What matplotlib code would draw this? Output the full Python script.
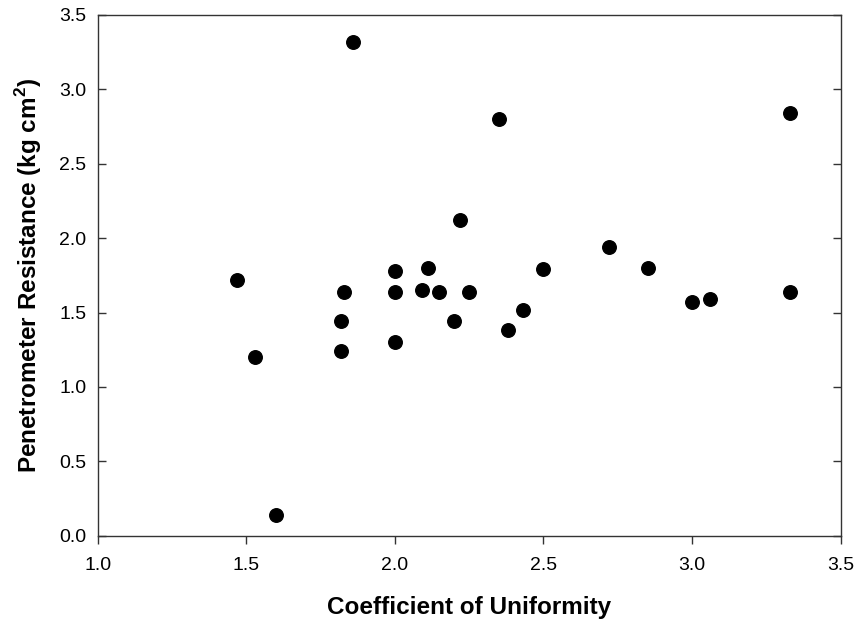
import matplotlib
matplotlib.use("Agg")
import matplotlib.pyplot as plt

plt.rcParams['font.family'] = ['Liberation Sans', 'DejaVu Sans']
plt.rcParams['mathtext.fontset'] = 'custom'
plt.rcParams['mathtext.rm'] = 'Liberation Sans'
plt.rcParams['mathtext.bf'] = 'Liberation Sans:bold'

# coefficient of uniformity vs penetrometer resistance
coef_uniformity = [1.47, 1.53, 1.60, 1.82, 1.82, 1.83, 1.86, 2.00, 2.00, 2.00,
                   2.09, 2.11, 2.15, 2.20, 2.22, 2.25, 2.35, 2.38, 2.43, 2.50,
                   2.72, 2.85, 3.00, 3.06, 3.33, 3.33]
resistance = [1.72, 1.20, 0.14, 1.44, 1.24, 1.64, 3.32, 1.78, 1.64, 1.30,
              1.65, 1.80, 1.64, 1.44, 2.12, 1.64, 2.80, 1.38, 1.52, 1.79,
              1.94, 1.80, 1.57, 1.59, 2.84, 1.64]

x_ticks = [1.0, 1.5, 2.0, 2.5, 3.0, 3.5]
y_ticks = [0.0, 0.5, 1.0, 1.5, 2.0, 2.5, 3.0, 3.5]

fig = plt.figure(figsize=(8.61, 6.29), dpi=100)
ax = fig.add_axes([0.1135, 0.1483, 0.8629, 0.8280])

ax.scatter(coef_uniformity, resistance, s=95, color='black', zorder=3)

ax.set_xlim(1.0, 3.5)
ax.set_ylim(0.0, 3.5)
ax.set_xticks(x_ticks)
ax.set_yticks(y_ticks)
ax.set_xticklabels([f"{v:.1f}" for v in x_ticks])
ax.set_yticklabels([f"{v:.1f}" for v in y_ticks])

for sp in ax.spines.values():
    sp.set_color('#333333')
    sp.set_linewidth(1.0)

ax.tick_params(axis='x', direction='out', length=5.5, width=1, color='#333333',
               labelsize=14, pad=10, top=False)
ax.tick_params(axis='y', direction='in', length=5.5, width=1, color='#333333',
               labelsize=14, pad=8, right=True)

ax.set_xlabel("Coefficient of Uniformity", fontsize=17.5, fontweight='bold', labelpad=16)
ax.set_ylabel(r"Penetrometer Resistance (kg cm$^\mathbf{2}$)", fontsize=17.5,
              fontweight='bold', labelpad=11)

fig.savefig("out.png", dpi=100)
